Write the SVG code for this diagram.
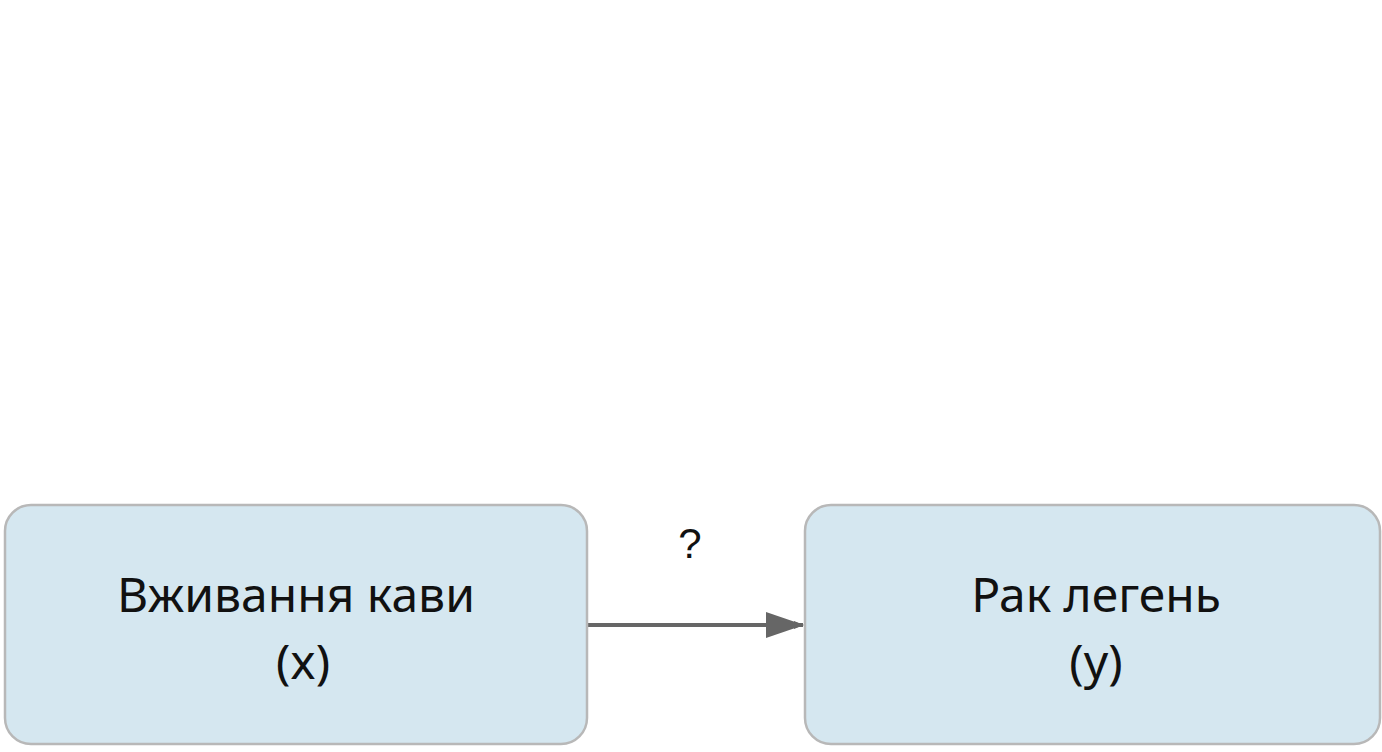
<svg xmlns="http://www.w3.org/2000/svg" width="1382" height="752" viewBox="0 0 1382 752">
<style>
.box{fill:#d5e7f0;stroke:#b8b8b8;stroke-width:2.5}
.t{font-family:"Noto Sans","Open Sans",sans-serif;font-size:48px;fill:#111;text-anchor:middle}
</style>
<defs><marker id="a" markerWidth="10" markerHeight="8" refX="9" refY="4" orient="auto" markerUnits="userSpaceOnUse" viewBox="0 0 10 8"><path d="M0,0L10,4L0,8z" fill="#666"/></marker></defs>
<rect width="1382" height="752" fill="#fff"/>
<g id="connectors">
<line x1="587" y1="625" x2="803" y2="625" stroke="#666" stroke-width="4" marker-end="url(#a)" style="marker-end:url(#a)"/>
<path d="M766,612L804,625L766,638z" fill="#666"/>
<text x="690" y="558" font-family="Liberation Sans,sans-serif" font-size="42" text-anchor="middle" fill="#111">?</text>
</g>
<g id="n1"><rect class="box" x="5" y="505" width="582" height="239" rx="26"/>
<text class="t" x="296" y="612">Вживання кави</text><text class="t" x="303" y="679">(x)</text></g>
<g id="n2"><rect class="box" x="805" y="505" width="575" height="239" rx="26"/>
<text class="t" x="1096" y="612">Рак легень</text><text class="t" x="1096" y="679">(y)</text></g>
</svg>
